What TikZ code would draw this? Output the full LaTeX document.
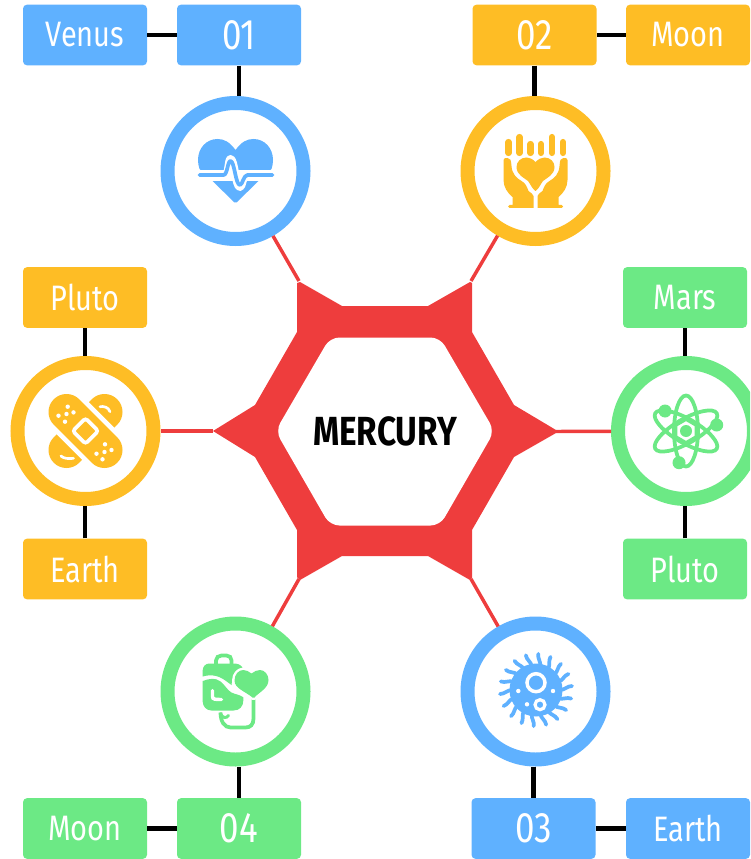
\documentclass[tikz,border=0pt]{standalone}
\usepackage{fontspec}
\setmainfont{Fira Sans}[FakeStretch=0.82]
\definecolor{skyc}{RGB}{95,177,255}
\definecolor{ambc}{RGB}{254,189,37}
\definecolor{grnc}{RGB}{108,233,133}
\definecolor{redc}{RGB}{238,61,61}
\tikzset{
	tagbox/.style={rounded corners=3pt,minimum width=93pt,minimum height=45.5pt,inner sep=0pt,text=white,font=\fontsize{26.5}{30}\selectfont},
	numbox/.style={tagbox,font=\fontsize{32}{36}\selectfont},
	ring/.style={circle,fill=white,line width=10.5pt,minimum size=102pt,inner sep=0pt},
	link/.style={line width=3.2pt,black},
	spoke/.style={line width=2.6pt,redc}
}
\begin{document}
\begin{tikzpicture}[x=0.75pt,y=-0.75pt]
\useasboundingbox (0,0) rectangle (750,859);
\clip (0,0) rectangle (750,859);
\foreach \n/\x/\y/\c/\t in {venus/85/35/skyc/Venus,moona/688/35/ambc/Moon,plutoa/85/297.5/ambc/Pluto,eartha/85/569/ambc/Earth,mars/685/297.5/grnc/Mars,plutob/685/569/grnc/Pluto,moonb/85/828.5/grnc/Moon,earthb/688/828.5/skyc/Earth}
	\node[tagbox,fill=\c] (\n) at (\x,\y) {\t};
\foreach \n/\x/\y/\c/\t in {n1/239/35/skyc/01,n2/534.5/35/ambc/02,n3/533.5/828.5/skyc/03,n4/239/828.5/grnc/04}
	\node[numbox,fill=\c] (\n) at (\x,\y) {\t};
\foreach \n/\x/\y/\c in {c1/235.5/171/skyc,c2/535.5/171/ambc,c3/85.5/431/ambc,c4/686/431/grnc,c5/235.5/691.5/grnc,c6/535.5/691.5/skyc}
	\node[ring,draw=\c] (\n) at (\x,\y) {};
\foreach \a/\b in {venus/n1,n2/moona,moonb/n4,n3/earthb}
	\draw[link] (\a)--(\b);
\foreach \a/\b in {n1.south/c1.north,n2.south/c2.north,n3.north/c6.south,n4.north/c5.south,plutoa.south/c3.north,eartha.north/c3.south,mars.south/c4.north,plutob.north/c4.south}
	\draw[link] (\a)--(\a |- \b);
\fill[redc] (300,282)--(342,306)--(428,306)--(470,282)--(472,283)--(472,332)--(514,405)--(556,430)--(556,433)--(514,457)--(472,530)--(472,578)--(470,580)--(428,556)--(342,556)--(300,580)--(297,577)--(297,530)--(255,457)--(213,431)--(255,405)--(297,332)--(297,283)--cycle;
\fill[white,rounded corners=7pt] (275.5,431)--(330,337.5)--(440,337.5)--(494.5,431)--(440,525.5)--(330,525.5)--cycle;
\node[font=\fontsize{30.5}{34}\selectfont\bfseries] (core) at (385,431) {MERCURY};
\foreach \n/\x/\y in {s1/299/281,s2/471/281,s3/213/431,s4/556/431.5,s5/299/579,s6/471/579}
	\coordinate (\n) at (\x,\y);
\foreach \a/\b in {s1/c1,s2/c2,s3/c3,s4/c4,s5/c5,s6/c6}
	\draw[spoke] (\a)--(\b);
% pulse heart
\begin{scope}[shift={(235.5,171)}]
	\fill[skyc] (0,-21) .. controls (-6,-29) and (-11,-32) .. (-18,-32) .. controls (-29,-32) and (-37.5,-23) .. (-37.5,-11) .. controls (-37.5,-8) and (-37,-5) .. (-36,-2)--(-23,10)--(-1,31.5)--(1,31.5)--(23,10)--(36,-2) .. controls (37,-5) and (37.5,-8) .. (37.5,-11) .. controls (37.5,-23) and (29,-32) .. (18,-32) .. controls (11,-32) and (6,-29) .. (0,-21)--cycle;
	\fill[white] (-40,-1) rectangle (40,10);
	\draw[white,line width=6pt,line join=round] (-10,4) .. controls (-7,4) and (-7,-12) .. (-5,-12) .. controls (-1,-12) and (0,16) .. (4.5,16) .. controls (7,16) and (7,4) .. (11,4);
	\draw[skyc,line width=2.8pt,line cap=round,line join=round] (-36,4)--(-12,4) .. controls (-8,4) and (-8,-10) .. (-5,-10) .. controls (-1,-10) and (0,14) .. (4.5,14) .. controls (7,14) and (8,4) .. (12,4)--(37,4);
\end{scope}
% hands with heart
\begin{scope}[shift={(535.5,171)}]
	\foreach \x/\y in {-27/-29,-16/-34,-5/-27,5.5/-27,16.5/-34,27.5/-29}
		\draw[ambc,line width=4.6pt,line cap=round] (\x,\y)--(\x,-18);
	\fill[ambc] (0,-9) .. controls (-3,-12) and (-6,-13.5) .. (-9,-13.5) .. controls (-15,-13.5) and (-19,-9) .. (-19,-4) .. controls (-19,4) and (-11,7) .. (-7.5,10) .. controls (-5,13) and (-4,17) .. (0,20) .. controls (4,17) and (5,13) .. (7.5,10) .. controls (11,7) and (19,4) .. (19,-4) .. controls (19,-9) and (15,-13.5) .. (9,-13.5) .. controls (6,-13.5) and (3,-12) .. (0,-9)--cycle;
	\foreach \s in {1,-1}
		\fill[ambc,xscale=\s] (-32,-11) .. controls (-32,-13) and (-30,-13) .. (-28,-13) .. controls (-25,-13) and (-24.5,-11) .. (-24,-5) .. controls (-23.5,3) and (-19,7) .. (-14,10) .. controls (-10,12) and (-8.5,16) .. (-7,20) .. controls (-5,23) and (-2,22) .. (-2,25)--(-2,37)--(-26,37) .. controls (-28,37) and (-28,34) .. (-26,34)--(-23,34)--(-23,26) .. controls (-28,22) and (-32,16) .. (-32,9)--cycle;
\end{scope}
% plasters
\begin{scope}[shift={(85.5,431)}]
	\draw[ambc,line width=27pt,line cap=round] (19,-19)--(-19,19);
	\draw[white,line width=34pt] (-30,-30)--(30,30);
	\draw[ambc,line width=27pt,line cap=round] (-19,-19)--(19,19);
	\draw[white,line width=2.8pt,rounded corners=2pt,rotate=45] (-9,-9) rectangle (9,9);
	\foreach \x/\y in {-17.8/-24.3,-27/-15.3,-19/-17,-12/-18.6,-20.5/-9.3,19.5/13.3,11/22.7,19/21,26/19,17/28.3}
		\fill[white] (\x,\y) circle (2.2);
	\draw[white,line width=2pt,line cap=round] (14.5,-24.3) .. controls (18,-25) and (23,-24) .. (24.5,-19.3);
	\draw[white,line width=2pt,line cap=round] (-24.5,25) .. controls (-22,27.5) and (-17,28) .. (-12,27.3);
\end{scope}
% atom
\begin{scope}[shift={(686,431)}]
	\foreach \a in {0,60,-60}
		\draw[grnc,line width=2.8pt,rotate=\a] (0,0) ellipse (12 and 35.5);
	\foreach \x/\y in {-21/-20,30.7/-6,-7/31.7}
		\fill[grnc] (\x,\y) circle (6.5);
	\draw[grnc,fill=white,line width=2.8pt] (0,-12)--(10.4,-6)--(10.4,6)--(0,12)--(-10.4,6)--(-10.4,-6)--cycle;
	\fill[grnc] (0,0) circle (6);
\end{scope}
% drip bag
\begin{scope}[shift={(235.5,691.5)}]
	\draw[grnc,line width=2.8pt] (-19.5,-27)--(-19.5,-31) .. controls (-19.5,-34) and (-17,-36) .. (-14,-36)--(-9,-36) .. controls (-6,-36) and (-4,-34) .. (-4,-31)--(-4,-27);
	\fill[grnc] (-32.8,-15)--(-32.8,-21) .. controls (-32.8,-25) and (-30,-28) .. (-26,-28)--(-2,-28) .. controls (2,-28) and (5,-27) .. (7,-24) .. controls (0,-21) and (-4,-14) .. (-4,-6.5) .. controls (-12,-12) and (-18,-19) .. (-32.8,-15)--cycle;
	\fill[grnc] (-32.8,-10.5) .. controls (-26,-13) and (-20,-14) .. (-15,-10) .. controls (-10,-6) and (-8,-1) .. (-4,1) .. controls (0,3) and (4,3) .. (7.8,5.8)--(7.8,9) .. controls (7.8,15) and (4,19) .. (-2,19)--(-24,19) .. controls (-29,19) and (-32.8,15) .. (-32.8,10)--cycle;
	\draw[white,line width=2.6pt,line cap=round] (-23,-1)--(-23,5) .. controls (-23,8) and (-20,8) .. (-14,8);
	\draw[grnc,line width=2.8pt] (18,4)--(18,27) .. controls (18,33) and (15,36) .. (10,36)--(-5,36) .. controls (-11,36) and (-15,30) .. (-15,21);
	\draw[grnc,line width=2.2pt,line cap=round] (-15,22) .. controls (-13,27) and (-9,27) .. (-7,24);
	\draw[white,line width=3.6pt,line join=round] (16,-18) .. controls (13,-20) and (11,-21.5) .. (7.8,-21.5) .. controls (3,-21.5) and (-1,-17) .. (-1,-11) .. controls (-1,-3) and (10,0) .. (17,6)--(19,6) .. controls (23,1) and (33,-3) .. (33,-11.5) .. controls (33,-17) and (29,-21.5) .. (24.5,-21.5) .. controls (21,-21.5) and (19,-20) .. (16,-18)--cycle;
	\fill[grnc] (16,-18) .. controls (13,-20) and (11,-21.5) .. (7.8,-21.5) .. controls (3,-21.5) and (-1,-17) .. (-1,-11) .. controls (-1,-3) and (10,0) .. (17,6)--(19,6) .. controls (23,1) and (33,-3) .. (33,-11.5) .. controls (33,-17) and (29,-21.5) .. (24.5,-21.5) .. controls (21,-21.5) and (19,-20) .. (16,-18)--cycle;
\end{scope}
% germ
\begin{scope}[shift={(535.5,691.5)}]
	\fill[skyc] (0.5,-1.5) circle (26.5);
	\foreach \a in {0,20,...,340}
		\draw[skyc,line width=2.8pt,line cap=round,shift={(0.5,-1.5)},rotate=\a] (24,0) .. controls (29,0) and (31,-4) .. (36,-4);
	\draw[white,line width=2.6pt] (0.5,-8.8) circle (9);
	\draw[white,line width=2.4pt] (4.5,13.2) circle (5);
	\foreach \x/\y in {-17.2/-0.5,17.5/-0.5,-8.5/12.8}
		\fill[white] (\x,\y) circle (2.2);
\end{scope}
\end{tikzpicture}
\end{document}
